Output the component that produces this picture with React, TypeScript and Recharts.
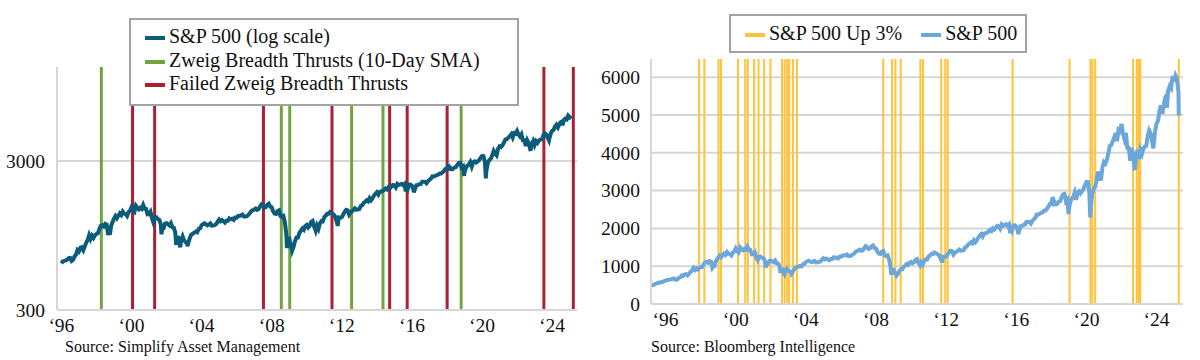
import React from 'react';
import { LineChart, Line, XAxis, YAxis, CartesianGrid, ReferenceLine } from 'recharts';

const FONT = '"Liberation Serif", "Times New Roman", serif';

const TEAL = '#0B5C7A';
const GREEN = '#70A443';
const RED = '#AE1F30';
const GOLD = '#FFC23B';
const SKY = '#6CA7DB';
const GRID = '#D6D6D6';

// S&P 500 month-end levels, Jan 1995 onwards
const spxMonthEnd = [
  470, 487, 501, 515, 533, 545, 562, 562, 584, 582, 605, 616, // 1995
  636, 640, 645, 654, 669, 671, 640, 652, 687, 705, 757, 741, // 1996
  786, 791, 757, 801, 848, 885, 954, 899, 947, 915, 955, 970, // 1997
  980, 1049, 1102, 1112, 1091, 1134, 1121, 957, 1017, 1099, 1164, 1229, // 1998
  1280, 1238, 1286, 1335, 1302, 1373, 1329, 1320, 1283, 1363, 1389, 1469, // 1999
  1394, 1366, 1499, 1452, 1421, 1455, 1431, 1518, 1437, 1429, 1315, 1320, // 2000
  1366, 1240, 1160, 1249, 1256, 1224, 1211, 1134, 1041, 1060, 1139, 1148, // 2001
  1130, 1107, 1147, 1077, 1067, 990, 912, 916, 815, 886, 936, 880, // 2002
  856, 841, 848, 917, 964, 975, 990, 1008, 996, 1051, 1058, 1112, // 2003
  1131, 1145, 1126, 1107, 1121, 1141, 1102, 1104, 1115, 1130, 1174, 1212, // 2004
  1181, 1204, 1181, 1157, 1192, 1191, 1234, 1220, 1229, 1207, 1249, 1248, // 2005
  1280, 1281, 1295, 1311, 1270, 1270, 1277, 1304, 1336, 1378, 1401, 1418, // 2006
  1438, 1407, 1421, 1482, 1531, 1503, 1455, 1474, 1527, 1549, 1481, 1468, // 2007
  1379, 1331, 1323, 1386, 1400, 1280, 1267, 1283, 1166, 969, 896, 903, // 2008
  826, 750, 798, 873, 919, 919, 987, 1021, 1057, 1036, 1096, 1115, // 2009
  1074, 1104, 1169, 1187, 1089, 1031, 1102, 1049, 1141, 1183, 1181, 1258, // 2010
  1286, 1327, 1326, 1364, 1345, 1321, 1292, 1219, 1131, 1253, 1247, 1258, // 2011
  1312, 1366, 1408, 1398, 1310, 1362, 1379, 1407, 1441, 1412, 1416, 1426, // 2012
  1498, 1515, 1569, 1598, 1631, 1606, 1686, 1633, 1682, 1757, 1806, 1848, // 2013
  1783, 1859, 1872, 1884, 1924, 1960, 1931, 2003, 1972, 2018, 2068, 2059, // 2014
  1995, 2105, 2068, 2086, 2107, 2063, 2104, 1972, 1920, 2079, 2080, 2044, // 2015
  1940, 1932, 2060, 2065, 2097, 2099, 2174, 2171, 2168, 2126, 2199, 2239, // 2016
  2279, 2364, 2363, 2384, 2412, 2423, 2470, 2472, 2519, 2575, 2648, 2674, // 2017
  2824, 2714, 2641, 2648, 2705, 2718, 2816, 2902, 2914, 2712, 2760, 2507, // 2018
  2704, 2784, 2834, 2946, 2752, 2942, 2980, 2926, 2977, 3038, 3141, 3231, // 2019
  3226, 2954, 2585, 2912, 3044, 3100, 3271, 3500, 3363, 3270, 3622, 3756, // 2020
  3714, 3811, 3973, 4181, 4204, 4298, 4395, 4523, 4308, 4605, 4567, 4766, // 2021
  4516, 4374, 4530, 4132, 4132, 3785, 4130, 3955, 3586, 3872, 4080, 3840, // 2022
  4077, 3970, 4109, 4169, 4180, 4450, 4589, 4508, 4288, 4194, 4568, 4770, // 2023
  4846, 5096, 5254, 5036, 5278, 5460, 5522, 5648, 5762, 5705, 6032, 5882, // 2024
  6041, 5955, 5612, // 2025
];

// intra-month troughs visible on the charts: [decimal year, level]
const spxLows = [
  [1998.77, 960], [2001.71, 966], [2002.55, 820], [2002.78, 790], [2003.19, 805],
  [2008.87, 780], [2010.51, 1023], [2011.76, 1099], [2015.65, 1870], [2016.11, 1850],
  [2018.11, 2590], [2018.98, 2380], [2020.22, 2290], [2022.78, 3590], [2023.82, 4117],
  [2024.59, 5186], [2025.27, 4982],
];

const yearTicks = [1996, 2000, 2004, 2008, 2012, 2016, 2020, 2024];
const logTicks = [300, 3000];
const levelTicks = [0, 1000, 2000, 3000, 4000, 5000, 6000];

const zweigThrusts = [1998.28, 2008.55, 2009.03, 2012.56, 2014.35, 2018.81];
const failedThrusts = [2000.06, 2001.32, 2007.53, 2011.44, 2014.73, 2015.73, 2018.01, 2023.53, 2025.21];
const upThreePct = [
  1997.91, 1998.21, 1999.02, 1999.16, 2000.13, 2000.54, 2000.69, 2001.05, 2001.3, 2001.62,
  2001.98, 2002.64, 2002.79, 2002.94, 2003.05, 2003.26, 2003.49, 2008.41, 2008.92, 2009.11,
  2009.41, 2010.53, 2010.68, 2011.72, 2011.95, 2012.09, 2015.79, 2019.04, 2020.23, 2020.34,
  2020.5, 2022.66, 2022.88, 2022.99, 2023.07, 2025.27,
];

const spx = spxMonthEnd
  .map((v, i) => ({ t: 1995 + (i + 1) / 12, v }))
  .concat(spxLows.map(([t, v]) => ({ t, v })))
  .sort((a, b) => a.t - b.t);

const leftData = spx.filter((d) => d.t >= 1996 && d.t <= 2025.1);
const rightData = spx.filter((d) => d.t >= 1995.15);

const yearLabel = (t: number) => '\u2018' + String(t).slice(2);
const tickStyle = { fill: '#111', fontSize: 19.5, fontFamily: FONT };

const swatch = (color: string) => (
  <span style={{ display: 'inline-block', width: 20, height: 4, background: color, marginRight: 4, verticalAlign: 'middle' }} />
);

export default function App() {
  return (
    <div style={{ position: 'absolute', left: 0, top: 0, width: 1200, height: 360, background: '#fff', fontFamily: FONT, color: '#111' }}>
      <div style={{ position: 'absolute', left: 0, top: 0 }}>
        <LineChart width={600} height={360} data={leftData} margin={{ top: 67, right: 23, bottom: 20, left: 0 }}>
          <CartesianGrid horizontal vertical={false} horizontalValues={logTicks} stroke={GRID} strokeWidth={2} />
          <XAxis
            dataKey="t"
            type="number"
            domain={[1995.75, 2025.42]}
            ticks={yearTicks}
            interval={0}
            tickFormatter={yearLabel}
            height={30}
            tickSize={0}
            tickMargin={8}
            axisLine={{ stroke: GRID, strokeWidth: 2 }}
            tick={tickStyle}
          />
          <YAxis
            scale="log"
            domain={[300, 12800]}
            ticks={logTicks}
            interval={0}
            allowDataOverflow
            width={57}
            tickSize={0}
            tickMargin={12}
            axisLine={{ stroke: GRID, strokeWidth: 2 }}
            tick={tickStyle}
          />
          {zweigThrusts.map((t) => (
            <ReferenceLine key={'g' + t} x={t} stroke={GREEN} strokeWidth={3} />
          ))}
          {failedThrusts.map((t) => (
            <ReferenceLine key={'r' + t} x={t} stroke={RED} strokeWidth={3} />
          ))}
          <Line dataKey="v" stroke={TEAL} strokeWidth={4} dot={false} isAnimationActive={false} />
        </LineChart>
      </div>

      <div style={{ position: 'absolute', left: 600, top: 0 }}>
        <LineChart width={600} height={360} data={rightData} margin={{ top: 59, right: 17, bottom: 26, left: 0 }}>
          <CartesianGrid horizontal vertical={false} horizontalValues={levelTicks} stroke={GRID} strokeWidth={2} />
          <XAxis
            dataKey="t"
            type="number"
            domain={[1995.32, 2025.51]}
            ticks={yearTicks}
            interval={0}
            tickFormatter={yearLabel}
            height={30}
            tickSize={0}
            tickMargin={8}
            axisLine={{ stroke: GRID, strokeWidth: 2 }}
            tick={tickStyle}
          />
          <YAxis
            domain={[0, 6480]}
            ticks={levelTicks}
            interval={0}
            allowDataOverflow
            width={51}
            tickSize={0}
            tickMargin={11}
            axisLine={{ stroke: GRID, strokeWidth: 2 }}
            tick={tickStyle}
          />
          {upThreePct.map((t) => (
            <ReferenceLine key={'o' + t} x={t} stroke={GOLD} strokeWidth={2} />
          ))}
          <Line dataKey="v" stroke={SKY} strokeWidth={4} dot={false} isAnimationActive={false} />
        </LineChart>
      </div>

      <div
        style={{
          position: 'absolute', left: 129, top: 18, width: 372, height: 79,
          border: '2px solid #A3A3A3', background: '#fff', padding: '5px 0 0 14px',
          boxSizing: 'content-box', fontSize: 20, lineHeight: '23.5px', whiteSpace: 'nowrap',
        }}
      >
        <div>{swatch(TEAL)}S&amp;P 500 (log scale)</div>
        <div>{swatch(GREEN)}Zweig Breadth Thrusts (10-Day SMA)</div>
        <div>{swatch(RED)}Failed Zweig Breadth Thrusts</div>
      </div>

      <div
        style={{
          position: 'absolute', left: 729, top: 14, width: 280, height: 35,
          border: '2px solid #A3A3A3', background: '#fff', padding: '0 0 0 14px',
          fontSize: 20, lineHeight: '35px', whiteSpace: 'nowrap',
        }}
      >
        {swatch(GOLD)}S&amp;P 500 Up 3%
        <span style={{ display: 'inline-block', width: 19 }} />
        {swatch(SKY)}S&amp;P 500
      </div>

      <div style={{ position: 'absolute', left: 65, top: 338, fontSize: 16, lineHeight: '18px' }}>Source: Simplify Asset Management</div>
      <div style={{ position: 'absolute', left: 651, top: 338, fontSize: 16, lineHeight: '18px' }}>Source: Bloomberg Intelligence</div>
    </div>
  );
}
